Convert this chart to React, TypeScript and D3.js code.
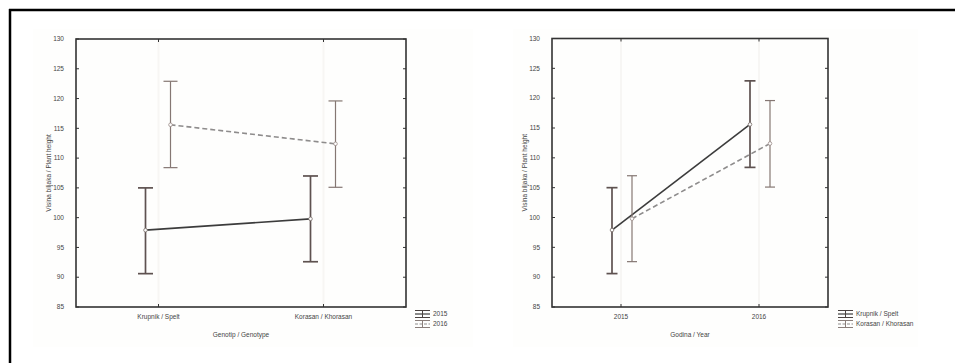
import React from "react";
import * as d3 from "d3";

const genotypes = ["Krupnik / Spelt", "Korasan / Khorasan"];
const years = ["2015", "2016"];
// per year, values by genotype
const mean2015 = [97.9, 99.8];
const lo2015 = [90.6, 92.6];
const hi2015 = [105.0, 107.0];
const mean2016 = [115.6, 112.4];
const lo2016 = [108.4, 105.1];
const hi2016 = [122.9, 119.6];
const yTicks = [85, 90, 95, 100, 105, 110, 115, 120, 125, 130];

const FONT = "Liberation Sans, Arial, sans-serif";
const DARK = "#3c3c3c";
const ERR_DARK = "#5e5250";
const ERR_LIGHT = "#857773";
const DASH = "#8e8c8c";

type Series = { mean: number[]; lo: number[]; hi: number[]; dashed: boolean; offset: number; cap: number };

function Panel({ x0, x1, y0, y1, cats, series, xTitle, legend, legendX }: {
  x0: number; x1: number; y0: number; y1: number; cats: string[]; series: Series[]; xTitle: string; legend: string[]; legendX: number;
}) {
  const x = d3.scalePoint<string>().domain(cats).range([x0, x1]).padding(0.5);
  const y = d3.scaleLinear().domain([85, 130]).range([y1, y0]);
  const line = d3.line<[number, number]>().x(d => d[0]).y(d => d[1]);
  return (
    <g>
      {cats.map(c => (
        <line key={"g" + c} x1={x(c)} x2={x(c)} y1={y0} y2={y1} stroke="#f7f6f4" strokeWidth={2} />
      ))}
      {series.map((s, si) => {
        const pts: [number, number][] = cats.map((c, i) => [(x(c) as number) + s.offset, y(s.mean[i])]);
        const ec = s.dashed ? ERR_LIGHT : ERR_DARK;
        const ew = s.dashed ? 1.2 : 1.7;
        return (
          <g key={si}>
            {cats.map((c, i) => {
              const cx = (x(c) as number) + s.offset;
              return (
                <g key={c}>
                  <line x1={cx} x2={cx} y1={y(s.hi[i])} y2={y(s.lo[i])} stroke={ec} strokeWidth={ew} />
                  <line x1={cx - s.cap} x2={cx + s.cap} y1={y(s.hi[i])} y2={y(s.hi[i])} stroke={ec} strokeWidth={ew} />
                  <line x1={cx - s.cap} x2={cx + s.cap} y1={y(s.lo[i])} y2={y(s.lo[i])} stroke={ec} strokeWidth={ew} />
                </g>
              );
            })}
            <path d={line(pts) || ""} fill="none" stroke={s.dashed ? DASH : DARK} strokeWidth={1.6}
              strokeDasharray={s.dashed ? "5,3" : undefined} />
            {pts.map((p, i) => (
              <circle key={i} cx={p[0]} cy={p[1]} r={1.8} fill="#fff" stroke={s.dashed ? "#9a8c88" : "#7a6e6a"} strokeWidth={0.8} />
            ))}
          </g>
        );
      })}
      <rect x={x0} y={y0} width={x1 - x0} height={y1 - y0} fill="none" stroke="#333" strokeWidth={1.6} />
      {yTicks.map(t => (
        <g key={t}>
          <line x1={x0} x2={x0 + 3} y1={y(t)} y2={y(t)} stroke="#333" strokeWidth={1} />
          <line x1={x1 - 3} x2={x1} y1={y(t)} y2={y(t)} stroke="#333" strokeWidth={1} />
          <text x={x0 - 12} y={y(t)} dy="0.35em" textAnchor="end" fontSize={6.5} fill="#444" fontFamily={FONT}>{t}</text>
        </g>
      ))}
      {cats.map(c => (
        <g key={"t" + c}>
          <line x1={x(c)} x2={x(c)} y1={y0} y2={y0 + 3} stroke="#333" strokeWidth={1} />
          <line x1={x(c)} x2={x(c)} y1={y1 - 3} y2={y1} stroke="#333" strokeWidth={1} />
          <text x={x(c)} y={317} dy="0.35em" textAnchor="middle" fontSize={6.5} fill="#444" fontFamily={FONT}>{c}</text>
        </g>
      ))}
      <text x={(x0 + x1) / 2} y={335} dy="0.35em" textAnchor="middle" fontSize={6.5} fill="#444" fontFamily={FONT}>{xTitle}</text>
      <text transform={`translate(${x0 - 27},${(y0 + y1) / 2}) rotate(-90)`} textAnchor="middle" dy="0.35em" fontSize={6.5} fill="#444" fontFamily={FONT}>
        Visina biljaka / Plant height
      </text>
      {legend.map((l, i) => {
        const ly = 314 + i * 10;
        const s = series[i];
        const c = s.dashed ? "#8a7e7a" : "#4a4240";
        return (
          <g key={l}>
            <line x1={legendX} x2={legendX + 15} y1={ly - 3.5} y2={ly - 3.5} stroke={c} strokeWidth={1} />
            <line x1={legendX} x2={legendX + 15} y1={ly} y2={ly} stroke={s.dashed ? DASH : DARK} strokeWidth={1.2} strokeDasharray={s.dashed ? "3,1.5" : undefined} />
            <line x1={legendX} x2={legendX + 15} y1={ly + 3.5} y2={ly + 3.5} stroke={c} strokeWidth={1} />
            <line x1={legendX + 7.5} x2={legendX + 7.5} y1={ly - 3.5} y2={ly + 3.5} stroke={c} strokeWidth={1} />
            <text x={legendX + 18} y={ly} dy="0.35em" fontSize={6.5} fill="#444" fontFamily={FONT}>{l}</text>
          </g>
        );
      })}
    </g>
  );
}

export default function App() {
  const left: Series[] = [
    { mean: mean2015, lo: lo2015, hi: hi2015, dashed: false, offset: -13, cap: 7.5 },
    { mean: mean2016, lo: lo2016, hi: hi2016, dashed: true, offset: 12, cap: 7 },
  ];
  const right: Series[] = [
    { mean: [mean2015[0], mean2016[0]], lo: [lo2015[0], lo2016[0]], hi: [hi2015[0], hi2016[0]], dashed: false, offset: -9, cap: 5.5 },
    { mean: [mean2015[1], mean2016[1]], lo: [lo2015[1], lo2016[1]], hi: [hi2015[1], hi2016[1]], dashed: true, offset: 11, cap: 5 },
  ];
  return (
    <svg width={955} height={363} style={{ position: "absolute", left: 0, top: 0, background: "#fff" }}>
      <rect x={0} y={0} width={955} height={363} fill="#fff" />
      <rect x={33} y={29} width={440} height={318} fill="#fefefd" />
      <rect x={513} y={29} width={405} height={318} fill="#fefefd" />
      <line x1={9} x2={955} y1={10} y2={10} stroke="#000" strokeWidth={2.5} />
      <line x1={10} x2={10} y1={9} y2={363} stroke="#000" strokeWidth={2.5} />
      <Panel x0={76} x1={406} y0={39} y1={307} cats={genotypes} series={left} xTitle="Genotip / Genotype" legend={years} legendX={415} />
      <Panel x0={552} x1={828} y0={38.5} y1={307} cats={years} series={right} xTitle="Godina / Year" legend={genotypes} legendX={838} />
    </svg>
  );
}
